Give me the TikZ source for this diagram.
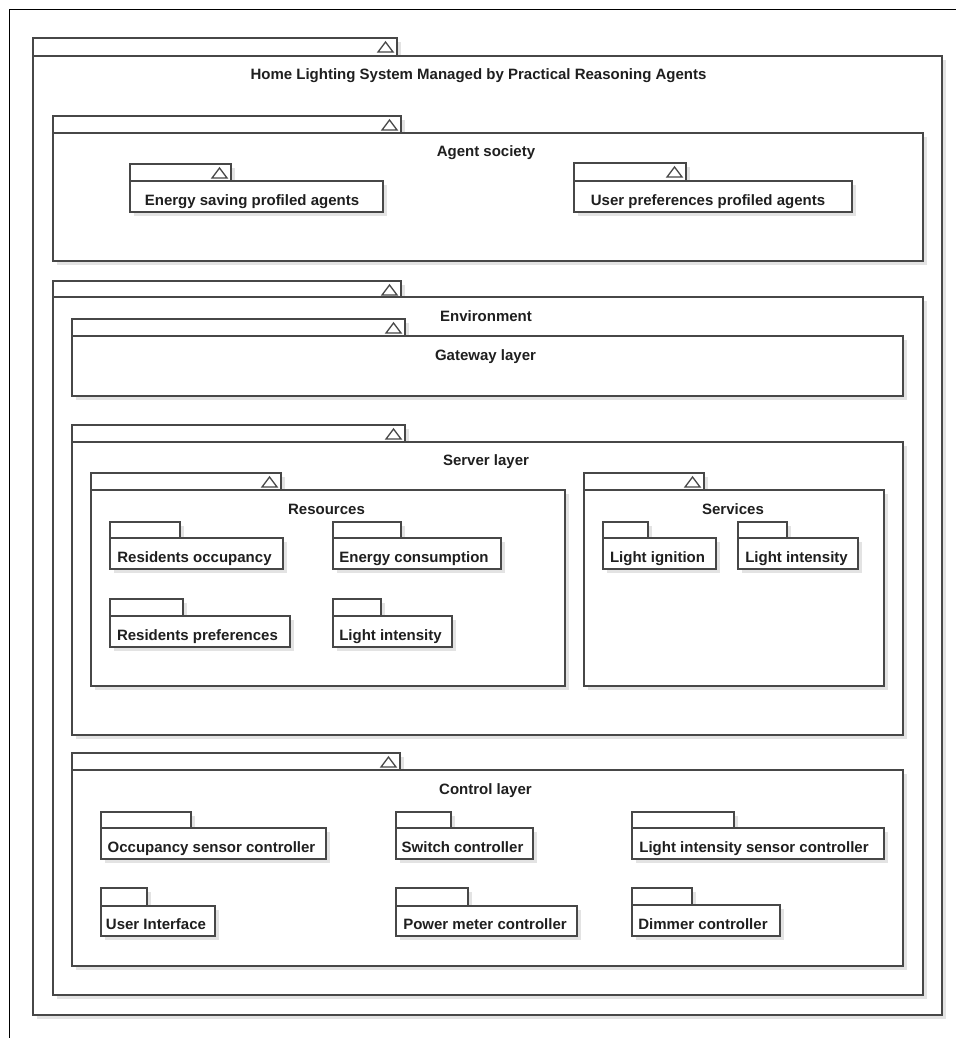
\documentclass[tikz,border=0pt]{standalone}
\usepackage{fontspec}
\setmainfont{Liberation Sans}
\newcommand{\pkgbox}[6]{%
  \fill[shd] ({#1+4},{#3+4}) rectangle ({#2+4},{#4+4});
  \fill[shd] ({#1+4},{#4+4}) rectangle ({#5+4},{#6+4});
  \filldraw[pkl] (#1,#3) rectangle (#2,#4);
  \filldraw[pkl] (#1,#4) rectangle (#5,#6);
}
\newcommand{\pkgtri}[2]{%
  \draw[pkl] ({#1-19},{#2+14}) -- ({#1-4},{#2+14}) -- ({#1-11.5},{#2+4}) -- cycle;
}
\begin{document}
\begin{tikzpicture}[x=1pt,y=-1pt,
  shd/.style={fill=black!11},
  pkl/.style={draw=black!72,fill=white,line width=1.3pt,line join=miter},
  frm/.style={draw=black,line width=1pt},
  lbl/.style={font=\fontsize{15}{18}\selectfont\bfseries,text=black!88,inner sep=0pt,anchor=base}]
\useasboundingbox (0,0) rectangle (956,1038);
\fill[white] (0,0) rectangle (956,1038);
\draw[frm] (9,1038) -- (9,10) -- (956,10);

% Outer package
\pkgbox{33}{397}{38}{56}{942}{1015}\pkgtri{397}{38}
\node[lbl] (home) at (478.5,80) {Home Lighting System Managed by Practical Reasoning Agents};

% Agent society
\pkgbox{53}{401}{116}{133}{923}{261}\pkgtri{401}{116}
\node[lbl] (agents) at (486,157) {Agent society};
\pkgbox{130}{231}{164}{181}{383}{212}\pkgtri{231}{164}
\node[lbl] (energyagents) at (252,205) {Energy saving profiled agents};
\pkgbox{574}{686}{163}{181}{852}{212}\pkgtri{686}{163}
\node[lbl] (useragents) at (708,205) {User preferences profiled agents};

% Environment
\pkgbox{53}{401}{281}{297}{923}{995}\pkgtri{401}{281}
\node[lbl] (env) at (486,321) {Environment};

% Gateway layer
\pkgbox{72}{405}{319}{336}{903}{396}\pkgtri{405}{319}
\node[lbl] (gateway) at (485.5,360) {Gateway layer};

% Server layer
\pkgbox{72}{405}{425}{442}{903}{735}\pkgtri{405}{425}
\node[lbl] (server) at (486,465) {Server layer};

% Resources
\pkgbox{91}{281}{473}{490}{565}{686}\pkgtri{281}{473}
\node[lbl] (resources) at (326.5,514) {Resources};
\pkgbox{110}{180}{522}{538}{283}{569}
\node[lbl] (resocc) at (194.5,562) {Residents occupancy};
\pkgbox{333}{401}{522}{538}{501}{569}
\node[lbl] (energycons) at (414,562) {Energy consumption};
\pkgbox{110}{183}{599}{616}{290}{647}
\node[lbl] (respref) at (197.5,640) {Residents preferences};
\pkgbox{333}{381}{599}{616}{452}{647}
\node[lbl] (reslight) at (390.5,640) {Light intensity};

% Services
\pkgbox{584}{704}{473}{490}{884}{686}\pkgtri{704}{473}
\node[lbl] (services) at (733,514) {Services};
\pkgbox{603}{648}{522}{538}{716}{569}
\node[lbl] (lightign) at (657.5,562) {Light ignition};
\pkgbox{738}{787}{522}{538}{858}{569}
\node[lbl] (servlight) at (796.5,562) {Light intensity};

% Control layer
\pkgbox{72}{400}{753}{770}{903}{966}\pkgtri{400}{753}
\node[lbl] (control) at (485.5,794) {Control layer};
\pkgbox{101}{191}{812}{828}{326}{859}
\node[lbl] (occsensor) at (211.5,852) {Occupancy sensor controller};
\pkgbox{396}{451}{812}{828}{533}{859}
\node[lbl] (switch) at (462.5,852) {Switch controller};
\pkgbox{632}{734}{812}{828}{884}{859}
\node[lbl] (lisensor) at (754,852) {Light intensity sensor controller};
\pkgbox{101}{147}{888}{906}{215}{936}
\node[lbl] (ui) at (156,929) {User Interface};
\pkgbox{396}{468}{888}{906}{577}{936}
\node[lbl] (power) at (485,929) {Power meter controller};
\pkgbox{632}{692}{888}{905}{780}{936}
\node[lbl] (dimmer) at (703,929) {Dimmer controller};
\end{tikzpicture}
\end{document}
